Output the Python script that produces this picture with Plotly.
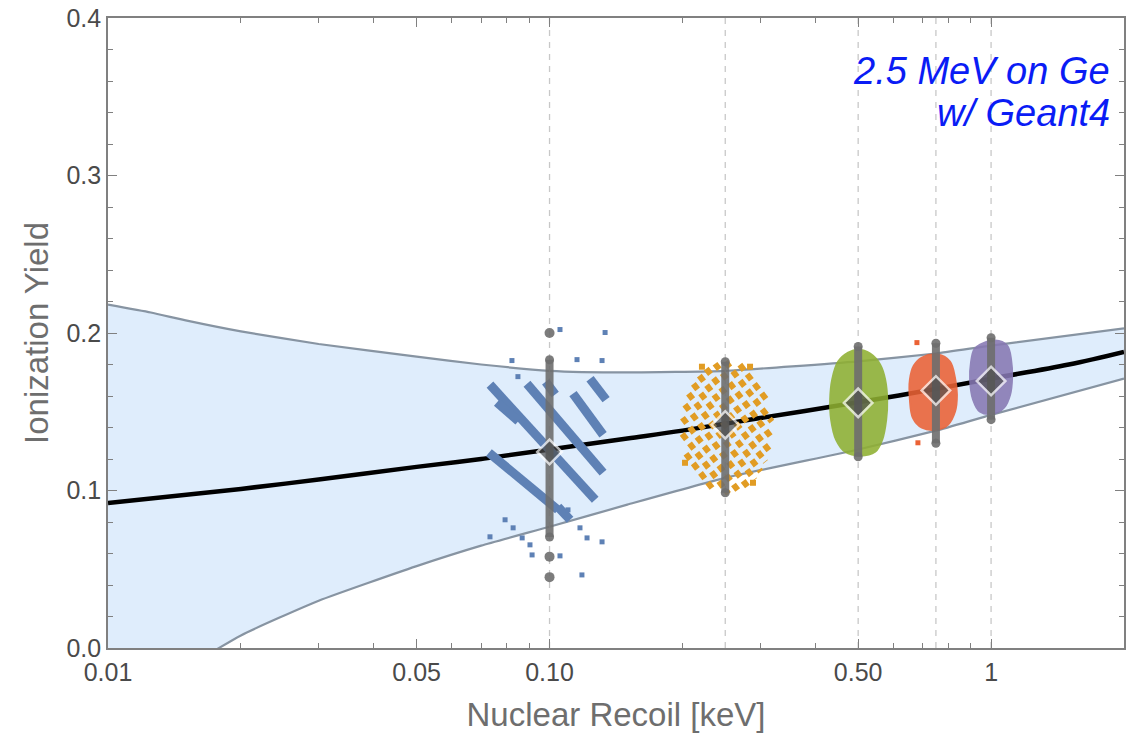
import math
import plotly.graph_objects as go

# ---------------- data ----------------
# Model curve (black line)
model_E = [0.01, 0.02, 0.03, 0.05, 0.07, 0.1, 0.15, 0.2, 0.3, 0.5, 0.7, 1.0, 1.5, 2.0]
model_Y = [0.092, 0.101, 0.107, 0.115, 0.120, 0.126, 0.133, 0.138, 0.146, 0.156, 0.163, 0.171, 0.180, 0.188]

# Uncertainty band
band_E = [0.01, 0.0125, 0.015, 0.02, 0.03, 0.05, 0.07, 0.1, 0.15, 0.25, 0.5, 0.75, 1.0, 2.0]
band_upper = [0.218, 0.213, 0.208, 0.201, 0.193, 0.185, 0.180, 0.176, 0.175, 0.176, 0.182, 0.187, 0.192, 0.203]
band_lower = [-0.055, -0.030, -0.013, 0.008, 0.030, 0.052, 0.065, 0.077, 0.091, 0.108, 0.126, 0.138, 0.148, 0.171]

# Simulated recoil energies (dashed reference lines / bars)
sim_E = [0.1, 0.25, 0.5, 0.75, 1.0]
sim_mean = [0.1245, 0.1417, 0.1556, 0.1635, 0.1695]
sim_low = [0.0705, 0.0985, 0.1214, 0.1300, 0.1450]
sim_high = [0.1830, 0.1818, 0.1914, 0.1935, 0.1970]
sim_colors = ["#5E81B5", "#E19C24", "#8FB032", "#EB6235", "#8778B3"]

# Outlier points on the 0.1 keV bar
out_E = [0.1, 0.1, 0.1]
out_Y = [0.200, 0.058, 0.045]

# 0.1 keV (blue) stripes: start / end
blue_E0 = [0.0733, 0.0889, 0.1130, 0.1235, 0.0729, 0.1045, 0.0760, 0.0980]
blue_Y0 = [0.1672, 0.1678, 0.1615, 0.1710, 0.1240, 0.0896, 0.1560, 0.1690]
blue_E1 = [0.1269, 0.1322, 0.1322, 0.1343, 0.1045, 0.1113, 0.0850, 0.1030]
blue_Y1 = [0.0941, 0.1113, 0.1354, 0.1577, 0.0877, 0.0814, 0.1440, 0.1610]
blue_dot_E = [0.1056, 0.1336, 0.0822, 0.1154, 0.1315, 0.0848, 0.0733, 0.0827, 0.0867,
              0.0903, 0.0913, 0.1056, 0.1172, 0.1216, 0.1315, 0.1184, 0.0793, 0.1101]
blue_dot_Y = [0.2022, 0.2003, 0.1825, 0.1831, 0.1825, 0.1723, 0.0706, 0.0763, 0.0699,
              0.0655, 0.0591, 0.0585, 0.0763, 0.0699, 0.0674, 0.0464, 0.0814, 0.0877]

# 0.25 keV (orange) stripes: start / end
orange_E0 = [0.2117, 0.2064, 0.2184, 0.2025, 0.2264, 0.2000, 0.2370, 0.1997, 0.2503, 0.2037, 0.2698]
orange_Y0 = [0.1677, 0.1615, 0.1729, 0.1545, 0.1774, 0.1462, 0.1805, 0.1360, 0.1818, 0.1233, 0.1799]
orange_E1 = [0.3008, 0.2915, 0.3084, 0.2809, 0.3144, 0.2686, 0.3182, 0.2543, 0.3187, 0.2359, 0.3125]
orange_Y1 = [0.1120, 0.1068, 0.1182, 0.1024, 0.1252, 0.0992, 0.1335, 0.0979, 0.1437, 0.0998, 0.1564]
orange_dot_E = [0.2214, 0.2845, 0.2889, 0.2027]
orange_dot_Y = [0.1786, 0.1786, 0.1049, 0.1176]

# 0.5 keV (green) cloud outline
green_E = [0.5, 0.5323, 0.5608, 0.5756, 0.5817, 0.5786, 0.5666, 0.5463, 0.5052, 0.4672,
           0.4458, 0.4343, 0.4321, 0.4366, 0.4505, 0.4746]
green_Y = [0.1894, 0.1869, 0.1799, 0.1704, 0.1577, 0.1449, 0.1322, 0.1246, 0.1221, 0.1246,
           0.1322, 0.1449, 0.1577, 0.1704, 0.1818, 0.1875]

# 0.75 keV (red) cloud outline + outliers
red_E = [0.6972, 0.7579, 0.8068, 0.8282, 0.8368, 0.8282, 0.7985, 0.75, 0.6972, 0.6652,
         0.6549, 0.6549, 0.6687]
red_Y = [0.1844, 0.1863, 0.1818, 0.1716, 0.1608, 0.1500, 0.1418, 0.1386, 0.1399, 0.1462,
         0.1577, 0.1704, 0.1793]
red_dot_E = [0.6793, 0.6828]
red_dot_Y = [0.1939, 0.1303]

# 1 keV (purple) cloud outline
purple_E = [0.9442, 1.0211, 1.0870, 1.1099, 1.1157, 1.1042, 1.0701, 1.0105, 0.9442, 0.9104,
            0.8963, 0.9010, 0.9151]
purple_Y = [0.1926, 0.1952, 0.1920, 0.1831, 0.1716, 0.1608, 0.1526, 0.1488, 0.1500, 0.1577,
            0.1704, 0.1818, 0.1894]

# Axes
x_range = [0.01, 2.0]
y_range = [0.0, 0.4]
x_tickvals = [0.01, 0.05, 0.1, 0.5, 1]
x_ticktext = ["0.01", "0.05", "0.10", "0.50", "1"]
x_minor = [0.02, 0.03, 0.04, 0.06, 0.07, 0.08, 0.09, 0.2, 0.3, 0.4, 0.6, 0.7, 0.8, 0.9, 2]
y_tickvals = [0.0, 0.1, 0.2, 0.3, 0.4]
y_ticktext = ["0.0", "0.1", "0.2", "0.3", "0.4"]

# ---------------- figure ----------------
fig = go.Figure()


def segs(x0, y0, x1, y1):
    xs, ys = [], []
    for a, b, c, d in zip(x0, y0, x1, y1):
        xs += [a, c, None]
        ys += [b, d, None]
    return xs, ys


# band fill
fig.add_trace(go.Scatter(x=band_E + band_E[::-1], y=band_upper + band_lower[::-1],
                         mode="lines", fill="toself", fillcolor="rgb(223,237,252)",
                         line=dict(width=0), hoverinfo="skip", showlegend=False))
edge = dict(color="rgb(135,148,162)", width=2.2, shape="spline", smoothing=0.5)
fig.add_trace(go.Scatter(x=band_E, y=band_upper, mode="lines", line=edge, showlegend=False))
fig.add_trace(go.Scatter(x=band_E, y=band_lower, mode="lines", line=edge, showlegend=False))

# dashed reference lines
gx, gy = [], []
for e in sim_E:
    gx += [e, e, None]
    gy += [y_range[0], y_range[1], None]
fig.add_trace(go.Scatter(x=gx, y=gy, mode="lines",
                         line=dict(color="rgb(200,200,200)", width=1.3, dash="6px,6px"),
                         showlegend=False))

# model curve
fig.add_trace(go.Scatter(x=model_E, y=model_Y, mode="lines",
                         line=dict(color="black", width=4.5, shape="spline"), showlegend=False))

# blue stripes
bx, by = segs(blue_E0, blue_Y0, blue_E1, blue_Y1)
fig.add_trace(go.Scatter(x=bx, y=by, mode="lines", line=dict(color=sim_colors[0], width=9),
                         showlegend=False))
fig.add_trace(go.Scatter(x=blue_dot_E, y=blue_dot_Y, mode="markers",
                         marker=dict(symbol="square", size=5, color=sim_colors[0]),
                         showlegend=False))

# orange stripes
ox, oy = segs(orange_E0, orange_Y0, orange_E1, orange_Y1)
fig.add_trace(go.Scatter(x=ox, y=oy, mode="lines",
                         line=dict(color=sim_colors[1], width=6, dash="7px,5px"),
                         showlegend=False))
fig.add_trace(go.Scatter(x=orange_dot_E, y=orange_dot_Y, mode="markers",
                         marker=dict(symbol="square", size=6, color=sim_colors[1]),
                         showlegend=False))

# green / red / purple clouds
for ex, ey, col in [(green_E, green_Y, sim_colors[2]), (red_E, red_Y, sim_colors[3]),
                    (purple_E, purple_Y, sim_colors[4])]:
    fig.add_trace(go.Scatter(x=ex + ex[:1], y=ey + ey[:1], mode="lines", fill="toself",
                             fillcolor=col, line=dict(color=col, width=2, shape="spline"),
                             opacity=0.88, showlegend=False))
fig.add_trace(go.Scatter(x=red_dot_E, y=red_dot_Y, mode="markers",
                         marker=dict(symbol="square", size=5, color=sim_colors[3]),
                         showlegend=False))

# gray bars
for e, lo, hi in zip(sim_E, sim_low, sim_high):
    fig.add_trace(go.Scatter(x=[e, e], y=[lo, hi], mode="lines+markers",
                             line=dict(color="rgba(110,110,110,0.9)", width=8),
                             marker=dict(size=9, color="rgba(110,110,110,0.9)"),
                             showlegend=False))
fig.add_trace(go.Scatter(x=out_E, y=out_Y, mode="markers",
                         marker=dict(size=10, color="rgba(110,110,110,0.9)"),
                         showlegend=False))

# mean diamonds
fig.add_trace(go.Scatter(x=sim_E, y=sim_mean, mode="markers",
                         marker=dict(symbol="diamond", size=[19, 21, 22, 22, 22],
                                     color="rgb(78,78,78)",
                                     line=dict(color="white", width=2.5)),
                         showlegend=False))

# labels
lab_font = dict(family="Liberation Sans, Arial", size=38, color="#0a1cf5", style="italic")
fig.add_annotation(text="2.5 MeV on Ge", xref="paper", yref="paper", x=0.988, y=0.916,
                   xanchor="right", yanchor="middle", showarrow=False, font=lab_font)
fig.add_annotation(text="w/ Geant4", xref="paper", yref="paper", x=0.988, y=0.849,
                   xanchor="right", yanchor="middle", showarrow=False, font=lab_font)

axis_common = dict(showline=True, linecolor="#808080", linewidth=1.6, mirror="allticks",
                   ticks="inside", tickcolor="#808080", ticklen=9, tickwidth=1.2,
                   showgrid=False, zeroline=False, automargin=False,
                   tickfont=dict(family="Liberation Sans, Arial", size=25, color="#4a4a4a"))

fig.update_xaxes(type="log", range=[math.log10(x_range[0]), math.log10(x_range[1])],
                 tickmode="array", tickvals=x_tickvals, ticktext=x_ticktext,
                 minor=dict(tickmode="array", tickvals=x_minor, ticks="inside", ticklen=5,
                            tickcolor="#808080"),
                 title=dict(text="Nuclear Recoil [keV]", standoff=18,
                            font=dict(family="Liberation Sans, Arial", size=33, color="#6e6e6e")),
                 ticklabelstandoff=1,
                 **axis_common)
fig.update_yaxes(range=y_range, tickmode="array", tickvals=y_tickvals, ticktext=y_ticktext,
                 minor=dict(dtick=0.02, ticks="inside", ticklen=5, tickcolor="#808080"),
                 title=dict(text="Ionization Yield", standoff=8,
                            font=dict(family="Liberation Sans, Arial", size=33, color="#6e6e6e")),
                 **axis_common)

fig.update_layout(width=1136, height=737, margin=dict(l=108, r=12, t=18, b=89),
                  paper_bgcolor="white", plot_bgcolor="white", showlegend=False)

# remove the default page margin so the figure fills the window exactly
fig.write_html("out.html", config={"displayModeBar": False},
               post_script="document.body.style.margin='0';")
